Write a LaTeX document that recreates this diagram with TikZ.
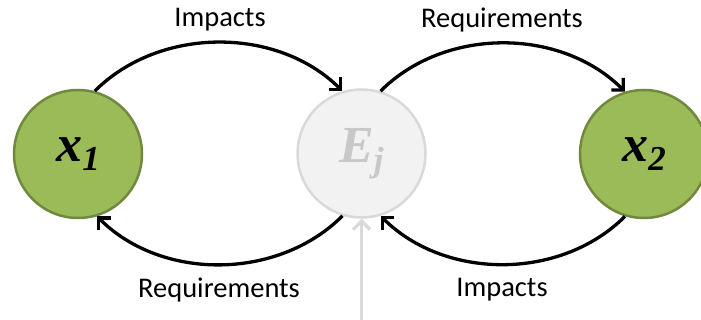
\documentclass[tikz,border=0pt]{standalone}
\usepackage{fontspec}
\setmainfont{Liberation Serif}
\newfontfamily\lblfont{Carlito}
\usetikzlibrary{arrows.meta}
\definecolor{ogreen}{HTML}{9BBB59}
\definecolor{ogreendk}{HTML}{71893F}
\definecolor{egray}{HTML}{F2F2F2}
\definecolor{egraydk}{HTML}{D9D9D9}
\definecolor{etext}{HTML}{C8C8C8}
\tikzset{
  varnode/.style={circle, minimum size=128pt, inner sep=0pt, line width=2.5pt, draw=ogreendk, fill=ogreen},
  envnode/.style={circle, minimum size=128pt, inner sep=0pt, line width=2.5pt, draw=egraydk, fill=egray, text=etext},
  link/.style={line width=3.3pt, -{Straight Barb[length=8.5pt,width=17pt,line width=3.3pt]}},
  glink/.style={line width=3.3pt, draw=egraydk, -{Straight Barb[length=8.5pt,width=17pt,line width=3.3pt]}},
  lbl/.style={font=\lblfont\fontsize{28.5}{30}\selectfont, inner sep=0pt}
}
\newcommand{\varlab}[2]{{\fontsize{52}{52}\selectfont\bfseries\itshape #1\raisebox{-9pt}{\fontsize{35}{35}\selectfont #2}}}
\begin{document}
\begin{tikzpicture}[x=1pt,y=-1pt]
\useasboundingbox (0,0) rectangle (701,320);
\node[varnode] (x1) at (78,154) {\varlab{x}{1}};
\node[envnode] (ej) at (361.5,153.5) {\varlab{E}{j}};
\node[varnode] (x2) at (644,154) {\varlab{x}{2}};
\coordinate (gin) at (361.5,322);
\draw[link] (x1.75) to[out=45,in=135,looseness=0.95] (ej.107);
\draw[link] (ej.73) to[out=45,in=135,looseness=0.95] (x2.107);
\draw[link] (ej.253) to[out=-135,in=-45,looseness=0.95] (x1.287);
\draw[link] (x2.253) to[out=-135,in=-45,looseness=0.95] (ej.287);
\draw[glink] (gin) -- (ej.south);
\node[lbl] (l1) at (220,20) {Impacts};
\node[lbl] (l2) at (502,20) {Requirements};
\node[lbl] (l3) at (219,290) {Requirements};
\node[lbl] (l4) at (502,290) {Impacts};
\end{tikzpicture}
\end{document}
